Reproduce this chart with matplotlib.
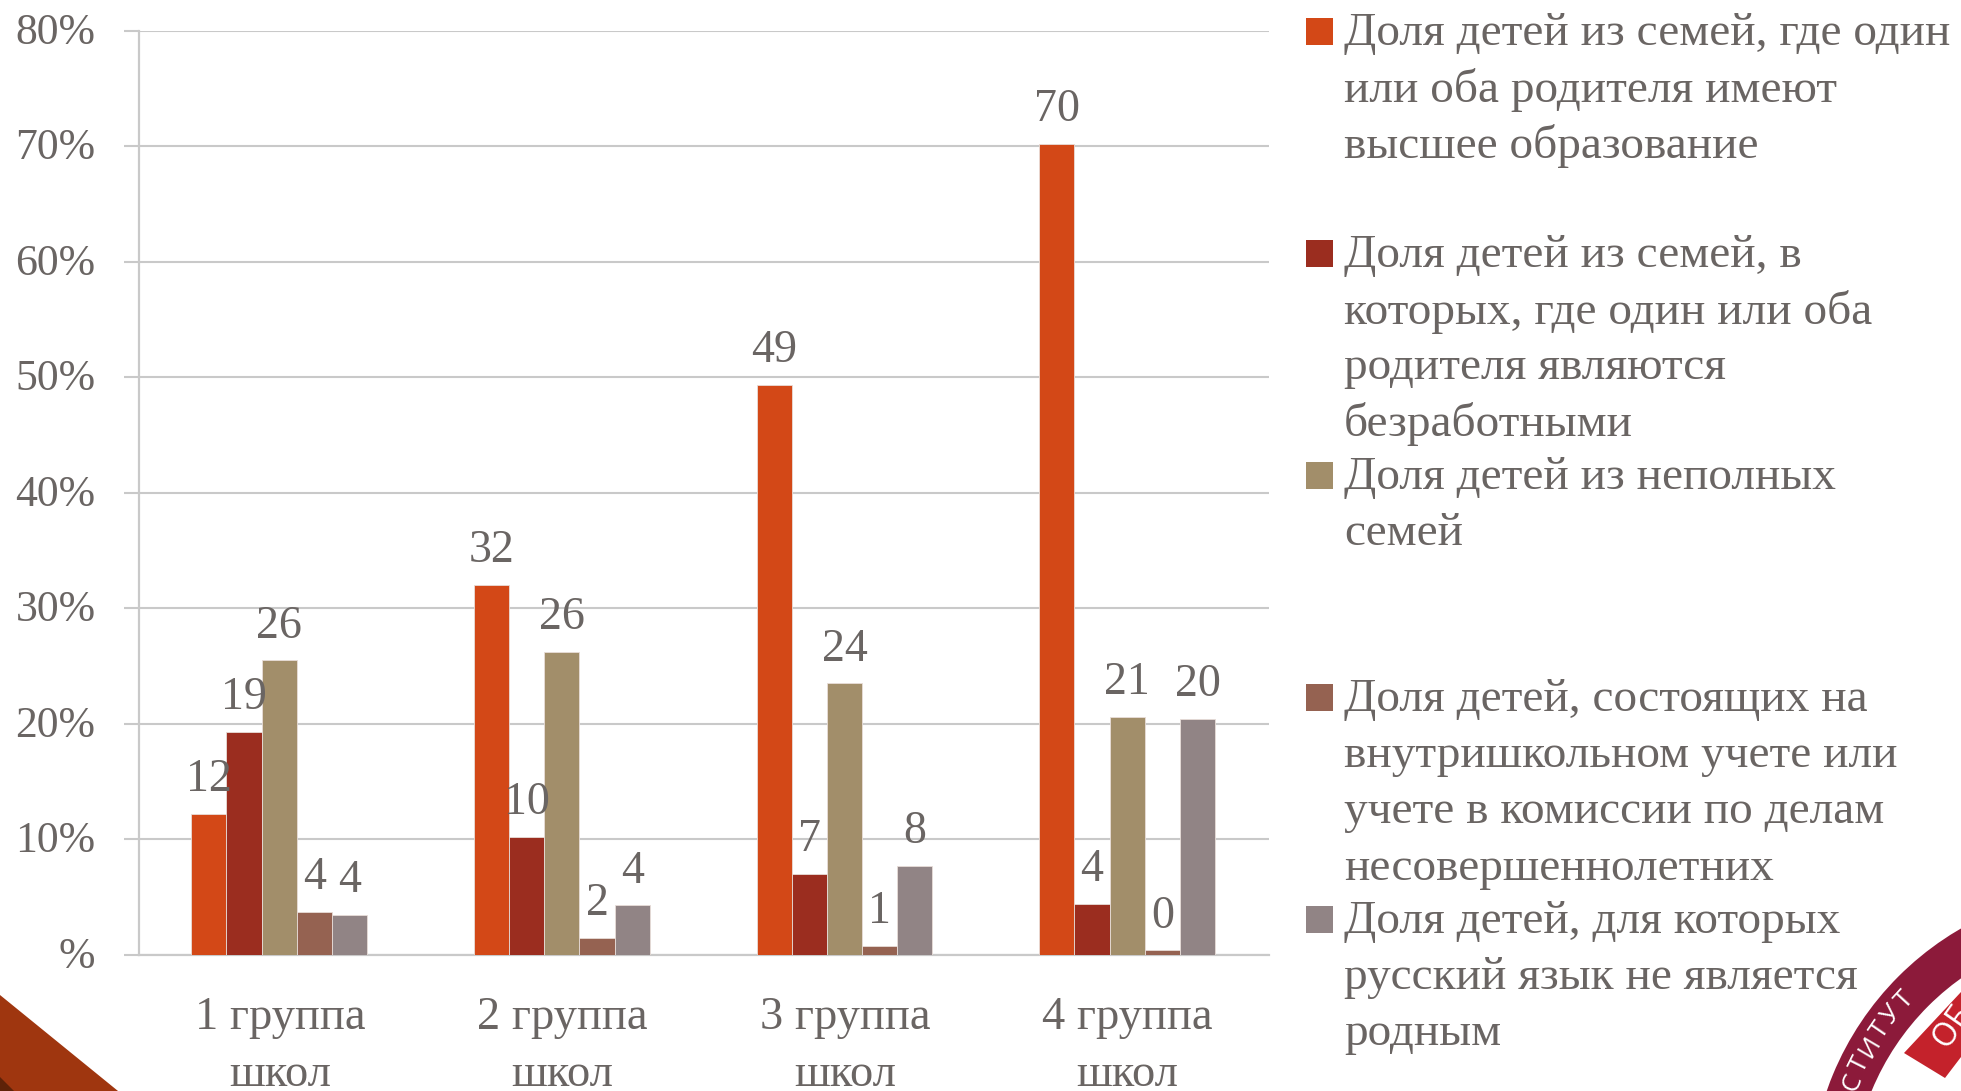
import numpy as np
import matplotlib
matplotlib.use("Agg")
import matplotlib.pyplot as plt
from matplotlib.patches import Polygon, Rectangle, Wedge
from matplotlib.transforms import ScaledTranslation

W, H = 1961, 1091
FONT = "Liberation Serif"
TEXT = "#6A6563"
GRID = "#C9C9C9"

groups = ["1 группа\nшкол", "2 группа\nшкол", "3 группа\nшкол", "4 группа\nшкол"]
s_higher = [12.2, 32.0, 49.3, 70.2]
s_unemployed = [19.3, 10.2, 7.0, 4.4]
s_single = [25.5, 26.2, 23.5, 20.6]
s_register = [3.7, 1.5, 0.8, 0.4]
s_language = [3.5, 4.3, 7.7, 20.4]
l_higher = ["12", "32", "49", "70"]
l_unemployed = ["19", "10", "7", "4"]
l_single = ["26", "26", "24", "21"]
l_register = ["4", "2", "1", "0"]
l_language = ["4", "4", "8", "20"]
colors = ["#D34817", "#9B2D1F", "#A28E6A", "#956251", "#918485"]
legend_lines = [
    ["Доля детей из семей, где один", "или оба родителя имеют", "высшее образование"],
    ["Доля детей из семей, в", "которых, где один или оба", "родителя являются", "безработными"],
    ["Доля детей из неполных", "семей"],
    ["Доля детей, состоящих на", "внутришкольном учете или", "учете в комиссии по делам", "несовершеннолетних"],
    ["Доля детей, для которых", "русский язык не является", "родным"],
]
y_ticks = [0, 10, 20, 30, 40, 50, 60, 70, 80]
y_labels = ["%", "10%", "20%", "30%", "40%", "50%", "60%", "70%", "80%"]

series = [s_higher, s_unemployed, s_single, s_register, s_language]
labels = [l_higher, l_unemployed, l_single, l_register, l_language]

fig = plt.figure(figsize=(W / 100, H / 100), dpi=100, facecolor="white")
L, R, T, B = 138.5, 1269, 30.5, 955
ax = fig.add_axes([L / W, 1 - B / H, (R - L) / W, (B - T) / H])
ax.set_xlim(-0.5, 3.5)
ax.set_ylim(0, 80)
ax.set_facecolor("none")
for side in ["top", "right"]:
    ax.spines[side].set_visible(False)
for side in ["left", "bottom"]:
    ax.spines[side].set_color(GRID)
    ax.spines[side].set_linewidth(1.6)
ax.grid(axis="y", color=GRID, linewidth=1.5, zorder=0)
ax.set_axisbelow(True)
ax.set_yticks(y_ticks, y_labels)
x = np.arange(len(groups))
ax.set_xticks(x, groups)
ax.tick_params(axis="y", length=11, width=1.5, color=GRID, pad=20, labelcolor=TEXT, labelsize=31.5)
ax.tick_params(axis="x", length=0, pad=30, labelcolor=TEXT, labelsize=33.5)
for t in ax.get_xticklabels() + ax.get_yticklabels():
    t.set_fontfamily(FONT)
for t in ax.get_xticklabels():
    t.set_linespacing(1.44)
up = ScaledTranslation(0, 2.5 / 100, fig.dpi_scale_trans)
for t in ax.get_yticklabels():
    t.set_transform(t.get_transform() + up)

bw = 0.1245
for i, (vals, labs, c) in enumerate(zip(series, labels, colors)):
    pos = x + (i - 2) * bw - 0.002
    ax.bar(pos, vals, width=bw, color=c, edgecolor="#E8DDD8", linewidth=0.6, zorder=3)
    for px, v, lab in zip(pos, vals, labs):
        ax.annotate(lab, (px, v), xytext=(0, 24.5), textcoords="offset points",
                    ha="center", va="center", fontsize=33, color=TEXT,
                    fontfamily=FONT, zorder=4)

def fx(px):
    return px / W
def fy(py):
    return 1 - py / H

# legend
entry_y = [31, 253, 475, 697, 919]
line_h = 56.3
for y0, lines, c in zip(entry_y, legend_lines, colors):
    fig.add_artist(Rectangle((fx(1306), fy(y0 + 14)), 27 / W, 27 / H, transform=fig.transFigure,
                             facecolor=c, edgecolor="none"))
    for j, line in enumerate(lines):
        fig.text(fx(1344), fy(y0 + 2.5 + j * line_h), line, ha="left", va="center",
                 fontsize=34.1, color=TEXT, fontfamily=FONT)

# corner decoration
def poly(points, color, z=1):
    pts = [(fx(a), fy(b)) for a, b in points]
    fig.add_artist(Polygon(pts, closed=True, transform=fig.transFigure, facecolor=color,
                           edgecolor="none", zorder=z))
poly([(0, 995), (118, 1091), (0, 1091)], "#9F360F")
poly([(0, 1077), (14, 1091), (0, 1091)], "#5E2208", 2)

# logo: drawn in pixel space through an overlay axes
ov = fig.add_axes([0, 0, 1, 1], facecolor="none")
ov.set_xlim(0, W)
ov.set_ylim(H, 0)
ov.axis("off")
cx, cy = 2112, 1190
ov.add_patch(Wedge((cx, cy), 302, 0, 360, width=42, facecolor="#8C1A3A", edgecolor="none"))
ov.add_patch(Polygon([(1961, 992), (1904, 1053), (1945, 1078), (1961, 1057)], closed=True,
                     facecolor="#C4222B", edgecolor="none"))
for ch, ang in zip("СТИТУТ", [202.5, 206.5, 210.5, 214.5, 218.5, 222.5]):
    a = np.radians(ang)
    ov.text(cx + 281 * np.cos(a), cy + 281 * np.sin(a), ch, rotation=270 - ang,
            rotation_mode="anchor", ha="center", va="center", color="white", fontsize=19,
            fontfamily="Open Sans")
ov.text(1940, 1044, "ОБ", rotation=55, rotation_mode="anchor", ha="left", va="center",
        color="white", fontsize=23, fontfamily="Open Sans")

fig.savefig("out.png", dpi=100)
